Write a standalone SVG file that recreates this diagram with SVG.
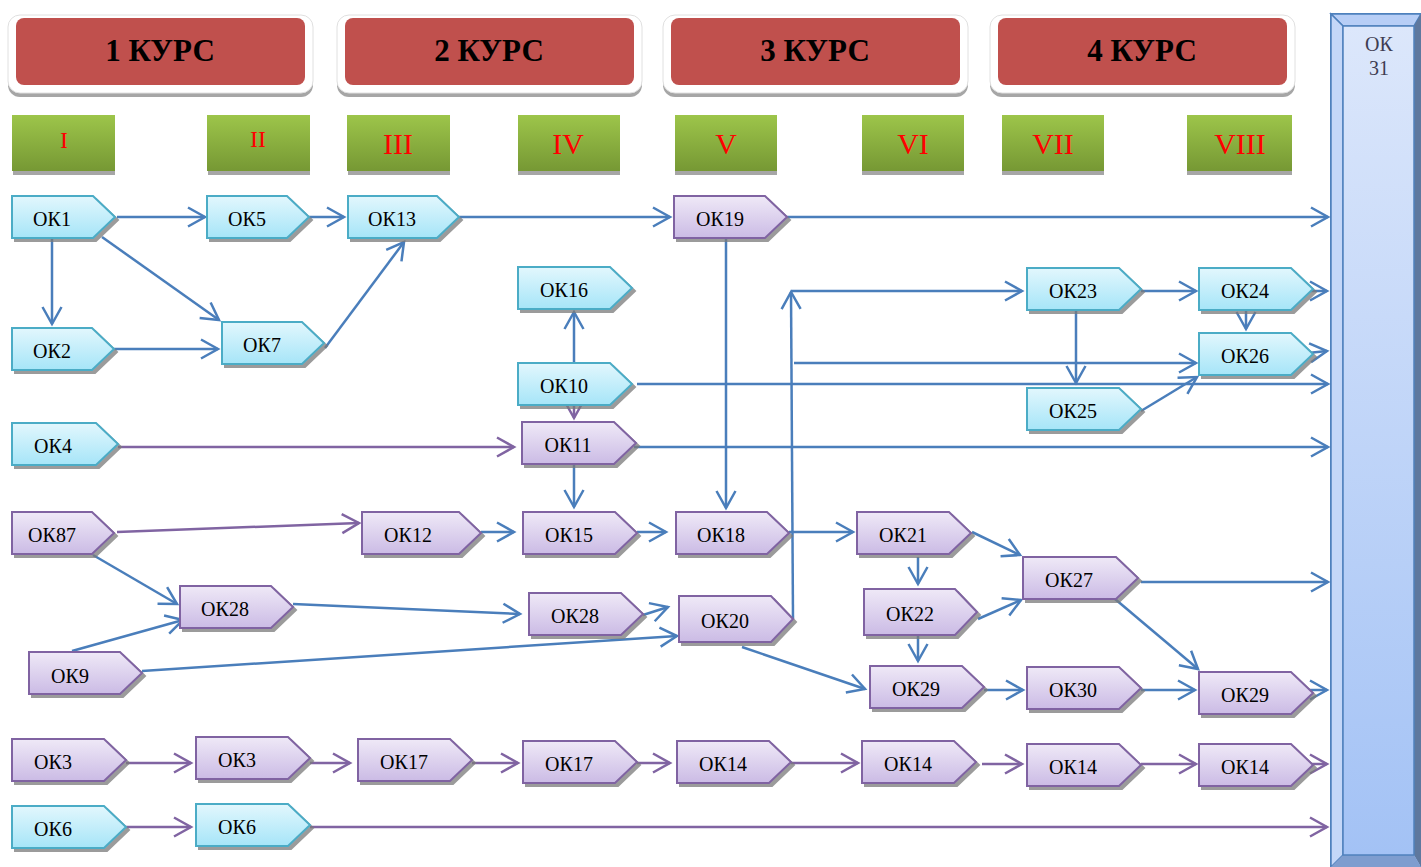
<svg xmlns="http://www.w3.org/2000/svg" width="1421" height="867" viewBox="0 0 1421 867">
<defs>
<linearGradient id="gc" x1="0" y1="0" x2="0" y2="1"><stop offset="0" stop-color="#e2f7fd"/><stop offset="1" stop-color="#a6e5f8"/></linearGradient>
<linearGradient id="gp" x1="0" y1="0" x2="0" y2="1"><stop offset="0" stop-color="#efe9f7"/><stop offset="1" stop-color="#cbbbe5"/></linearGradient>
<linearGradient id="gg" x1="0" y1="0" x2="0" y2="1"><stop offset="0" stop-color="#9dc54a"/><stop offset="1" stop-color="#769834"/></linearGradient>
<linearGradient id="gb" x1="0" y1="0" x2="0" y2="1"><stop offset="0" stop-color="#dce7fb"/><stop offset="1" stop-color="#a3c2f5"/></linearGradient>
<filter id="ds" x="-10%" y="-20%" width="130%" height="150%"><feDropShadow dx="3" dy="3" stdDeviation="0.7" flood-color="#7a7a7a" flood-opacity="0.75"/></filter>
<marker id="ab" markerWidth="24" markerHeight="24" viewBox="-20 -12 24 24" refX="0" refY="0" orient="auto" markerUnits="userSpaceOnUse"><path d="M-17,-9.5 L0,0 L-17,9.5" fill="none" stroke="#4a7ebb" stroke-width="2.5"/></marker>
<marker id="ap" markerWidth="24" markerHeight="24" viewBox="-20 -12 24 24" refX="0" refY="0" orient="auto" markerUnits="userSpaceOnUse"><path d="M-17,-9.5 L0,0 L-17,9.5" fill="none" stroke="#8064a2" stroke-width="2.5"/></marker>
</defs>
<style>
.c{fill:url(#gc);stroke:#4bacc6;stroke-width:2;filter:url(#ds)}
.p{fill:url(#gp);stroke:#8064a2;stroke-width:2;filter:url(#ds)}
.t{font-family:"Liberation Serif","Times New Roman",serif;font-size:20px;fill:#000;text-anchor:middle}
.hd{font-family:"Liberation Serif","Times New Roman",serif;font-size:31px;font-weight:bold;fill:#000;text-anchor:middle}
.rn{font-family:"Liberation Serif","Times New Roman",serif;font-size:30px;fill:#ff0000;text-anchor:middle}
.rs{font-size:24px}
.b{fill:none;stroke:#4a7ebb;stroke-width:2.5;marker-end:url(#ab)}
.bn{fill:none;stroke:#4a7ebb;stroke-width:2.5}
.pu{fill:none;stroke:#8064a2;stroke-width:2.5;marker-end:url(#ap)}
.frame{fill:#fff;stroke:#e0e0e0;stroke-width:1}
.fsh{fill:#a6a6a6}
.red{fill:#c0504d}
.gsh{fill:#a6a6a6}
.grn{fill:url(#gg)}
</style>
<rect width="1421" height="867" fill="#fff"/>

<g id="courses">
<g id="k1"><rect class="fsh" x="8" y="21" width="305" height="76" rx="12"/><rect class="frame" x="8" y="15" width="305" height="78" rx="12"/><rect class="red" x="16" y="18" width="289" height="67" rx="8"/><text class="hd" x="160" y="61">1 КУРС</text></g>
<g id="k2"><rect class="fsh" x="337" y="21" width="305" height="76" rx="12"/><rect class="frame" x="337" y="15" width="305" height="78" rx="12"/><rect class="red" x="345" y="18" width="289" height="67" rx="8"/><text class="hd" x="489" y="61">2 КУРС</text></g>
<g id="k3"><rect class="fsh" x="663" y="21" width="305" height="76" rx="12"/><rect class="frame" x="663" y="15" width="305" height="78" rx="12"/><rect class="red" x="671" y="18" width="289" height="67" rx="8"/><text class="hd" x="815" y="61">3 КУРС</text></g>
<g id="k4"><rect class="fsh" x="990" y="21" width="305" height="76" rx="12"/><rect class="frame" x="990" y="15" width="305" height="78" rx="12"/><rect class="red" x="998" y="18" width="289" height="67" rx="8"/><text class="hd" x="1142" y="61">4 КУРС</text></g>
</g>

<g id="semesters">
<g id="s1"><rect class="gsh" x="13" y="118" width="102" height="57"/><rect class="grn" x="12" y="115" width="103" height="56"/><text class="rn rs" x="64" y="148">I</text></g>
<g id="s2"><rect class="gsh" x="208" y="118" width="102" height="57"/><rect class="grn" x="207" y="115" width="103" height="56"/><text class="rn rs" x="258" y="147">II</text></g>
<g id="s3"><rect class="gsh" x="348" y="118" width="102" height="57"/><rect class="grn" x="347" y="115" width="103" height="56"/><text class="rn" x="398" y="154">III</text></g>
<g id="s4"><rect class="gsh" x="518" y="118" width="102" height="57"/><rect class="grn" x="518" y="115" width="102" height="56"/><text class="rn" x="568" y="154">IV</text></g>
<g id="s5"><rect class="gsh" x="675" y="118" width="102" height="57"/><rect class="grn" x="675" y="115" width="102" height="56"/><text class="rn" x="726" y="154">V</text></g>
<g id="s6"><rect class="gsh" x="862" y="118" width="102" height="57"/><rect class="grn" x="862" y="115" width="102" height="56"/><text class="rn" x="913" y="154">VI</text></g>
<g id="s7"><rect class="gsh" x="1002" y="118" width="102" height="57"/><rect class="grn" x="1002" y="115" width="102" height="56"/><text class="rn" x="1053" y="154">VII</text></g>
<g id="s8"><rect class="gsh" x="1187" y="118" width="105" height="57"/><rect class="grn" x="1187" y="115" width="105" height="56"/><text class="rn" x="1240" y="154">VIII</text></g>
</g>

<g id="ok31">
<rect x="1331" y="14" width="90" height="853" fill="url(#gb)" stroke="#4f81bd" stroke-width="2"/>
<polygon points="1331,14 1421,14 1414,26 1343,26" fill="#b7cef6" stroke="#4f81bd" stroke-width="1.5"/>
<polygon points="1331,14 1343,26 1343,855 1331,867" fill="#c4d7f8" stroke="#4f81bd" stroke-width="1.5"/>
<polygon points="1414,26 1421,14 1421,867 1414,855" fill="#5e789e"/>
<polygon points="1331,867 1343,855 1414,855 1421,867" fill="#7e9dcf"/>
<rect x="1343" y="26" width="71" height="829" fill="url(#gb)" stroke="#4f81bd" stroke-width="1.5"/>
<text class="t" x="1379" y="51" style="fill:#3f3d52">ОК</text>
<text class="t" x="1379" y="75" style="fill:#3f3d52">31</text>
</g>

<g id="connectors">
<line class="b" x1="117" y1="217" x2="205" y2="217"/>
<line class="b" x1="309" y1="217" x2="344" y2="217"/>
<line class="b" x1="459" y1="217" x2="670" y2="217"/>
<line class="b" x1="787" y1="217" x2="1328" y2="217"/>
<line class="b" x1="52" y1="238" x2="52" y2="324"/>
<line class="b" x1="102" y1="237" x2="219" y2="320"/>
<line class="b" x1="114" y1="349" x2="218" y2="349"/>
<line class="b" x1="325" y1="348" x2="404" y2="242"/>
<line class="b" x1="574" y1="363" x2="574" y2="312"/>
<line class="b" x1="637" y1="384" x2="1328" y2="384"/>
<line class="b" x1="634" y1="447" x2="1328" y2="447"/>
<line class="b" x1="574" y1="464" x2="574" y2="507"/>
<line class="b" x1="726" y1="238" x2="726" y2="508"/>
<line class="b" x1="793" y1="619" x2="791" y2="292"/>
<line class="b" x1="791" y1="291" x2="1022" y2="291"/>
<line class="b" x1="794" y1="363" x2="1196" y2="363"/>
<line class="b" x1="1141" y1="291" x2="1196" y2="291"/>
<line class="b" x1="1076" y1="310" x2="1076" y2="383"/>
<line class="b" x1="1246" y1="310" x2="1246" y2="329"/>
<line class="b" x1="1310" y1="291" x2="1327" y2="291"/>
<line class="b" x1="1308" y1="353" x2="1327" y2="351"/>
<line class="b" x1="1141" y1="411" x2="1197" y2="377"/>
<line class="b" x1="93" y1="555" x2="177" y2="604"/>
<line class="b" x1="72" y1="651" x2="183" y2="620"/>
<line class="b" x1="293" y1="604" x2="520" y2="614"/>
<line class="b" x1="142" y1="671" x2="677" y2="636"/>
<line class="b" x1="643" y1="615" x2="668" y2="607"/>
<line class="b" x1="481" y1="532" x2="514" y2="532"/>
<line class="b" x1="637" y1="532" x2="666" y2="532"/>
<line class="b" x1="789" y1="532" x2="853" y2="532"/>
<line class="b" x1="742" y1="647" x2="865" y2="689"/>
<line class="b" x1="918" y1="557" x2="918" y2="584"/>
<line class="b" x1="918" y1="636" x2="918" y2="661"/>
<line class="b" x1="972" y1="532" x2="1020" y2="555"/>
<line class="b" x1="978" y1="619" x2="1021" y2="600"/>
<line class="b" x1="1141" y1="582" x2="1328" y2="582"/>
<line class="b" x1="1115" y1="599" x2="1198" y2="669"/>
<line class="b" x1="984" y1="690" x2="1023" y2="690"/>
<line class="b" x1="1141" y1="690" x2="1195" y2="690"/>
<line class="b" x1="1308" y1="690" x2="1327" y2="690"/>
<line class="pu" x1="118" y1="447" x2="514" y2="447"/>
<line class="pu" x1="574" y1="405" x2="574" y2="418"/>
<line class="pu" x1="117" y1="532" x2="359" y2="523"/>
<line class="pu" x1="126" y1="763" x2="191" y2="763"/>
<line class="pu" x1="310" y1="763" x2="350" y2="763"/>
<line class="pu" x1="472" y1="763" x2="518" y2="763"/>
<line class="pu" x1="637" y1="763" x2="670" y2="763"/>
<line class="pu" x1="791" y1="763" x2="858" y2="763"/>
<line class="pu" x1="982" y1="764" x2="1022" y2="764"/>
<line class="pu" x1="1141" y1="764" x2="1196" y2="764"/>
<line class="pu" x1="1308" y1="764" x2="1327" y2="764"/>
<line class="pu" x1="126" y1="827" x2="191" y2="827"/>
<line class="pu" x1="310" y1="827" x2="1327" y2="827"/>
</g>

<g id="n1"><polygon class="c" points="12,196 93,196 115,217 93,238 12,238"/><text class="t" x="52" y="226">ОК1</text></g>
<g id="n5"><polygon class="c" points="207,196 287,196 309,217 287,238 207,238"/><text class="t" x="247" y="226">ОК5</text></g>
<g id="n13"><polygon class="c" points="348,196 437,196 459,217 437,238 348,238"/><text class="t" x="392" y="226">ОК13</text></g>
<g id="n19"><polygon class="p" points="674,196 765,196 787,217 765,238 674,238"/><text class="t" x="720" y="226">ОК19</text></g>
<g id="n2"><polygon class="c" points="12,328 92,328 114,349 92,370 12,370"/><text class="t" x="52" y="358">ОК2</text></g>
<g id="n7"><polygon class="c" points="222,322 302,322 324,343 302,364 222,364"/><text class="t" x="262" y="352">ОК7</text></g>
<g id="n4"><polygon class="c" points="12,423 96,423 118,444 96,465 12,465"/><text class="t" x="53" y="453">ОК4</text></g>
<g id="n16"><polygon class="c" points="518,267 610,267 632,288 610,309 518,309"/><text class="t" x="564" y="297">ОК16</text></g>
<g id="n10"><polygon class="c" points="518,363 610,363 632,384 610,405 518,405"/><text class="t" x="564" y="393">ОК10</text></g>
<g id="n11"><polygon class="p" points="522,422 614,422 636,443 614,464 522,464"/><text class="t" x="568" y="452">ОК11</text></g>
<g id="n23"><polygon class="c" points="1027,268 1119,268 1141,289 1119,310 1027,310"/><text class="t" x="1073" y="298">ОК23</text></g>
<g id="n24"><polygon class="c" points="1199,268 1291,268 1313,289 1291,310 1199,310"/><text class="t" x="1245" y="298">ОК24</text></g>
<g id="n26"><polygon class="c" points="1199,333 1291,333 1313,354 1291,375 1199,375"/><text class="t" x="1245" y="363">ОК26</text></g>
<g id="n25"><polygon class="c" points="1027,388 1119,388 1141,409 1119,430 1027,430"/><text class="t" x="1073" y="418">ОК25</text></g>
<g id="n87"><polygon class="p" points="12,512 92,512 114,533 92,554 12,554"/><text class="t" x="52" y="542">ОК87</text></g>
<g id="n12"><polygon class="p" points="362,512 459,512 481,533 459,554 362,554"/><text class="t" x="408" y="542">ОК12</text></g>
<g id="n15"><polygon class="p" points="523,512 615,512 637,533 615,554 523,554"/><text class="t" x="569" y="542">ОК15</text></g>
<g id="n18"><polygon class="p" points="676,512 767,512 789,533 767,554 676,554"/><text class="t" x="721" y="542">ОК18</text></g>
<g id="n21"><polygon class="p" points="857,512 949,512 971,533 949,554 857,554"/><text class="t" x="903" y="542">ОК21</text></g>
<g id="n28a"><polygon class="p" points="180,586 271,586 293,607 271,628 180,628"/><text class="t" x="225" y="616">ОК28</text></g>
<g id="n28b"><polygon class="p" points="529,593 621,593 643,614 621,635 529,635"/><text class="t" x="575" y="623">ОК28</text></g>
<g id="n20"><polygon class="p" points="679,596 771,596 793,619 771,642 679,642"/><text class="t" x="725" y="628">ОК20</text></g>
<g id="n22"><polygon class="p" points="864,589 955,589 977,612 955,635 864,635"/><text class="t" x="910" y="621">ОК22</text></g>
<g id="n27"><polygon class="p" points="1023,557 1116,557 1138,578 1116,599 1023,599"/><text class="t" x="1069" y="587">ОК27</text></g>
<g id="n9"><polygon class="p" points="29,652 120,652 142,673 120,694 29,694"/><text class="t" x="70" y="683">ОК9</text></g>
<g id="n29a"><polygon class="p" points="870,666 962,666 984,687 962,708 870,708"/><text class="t" x="916" y="696">ОК29</text></g>
<g id="n30"><polygon class="p" points="1027,667 1119,667 1141,688 1119,709 1027,709"/><text class="t" x="1073" y="697">ОК30</text></g>
<g id="n29b"><polygon class="p" points="1199,672 1291,672 1313,693 1291,714 1199,714"/><text class="t" x="1245" y="702">ОК29</text></g>
<g id="n3a"><polygon class="p" points="12,739 104,739 126,760 104,781 12,781"/><text class="t" x="53" y="769">ОК3</text></g>
<g id="n3b"><polygon class="p" points="196,737 288,737 310,758 288,779 196,779"/><text class="t" x="237" y="767">ОК3</text></g>
<g id="n17a"><polygon class="p" points="358,739 450,739 472,760 450,781 358,781"/><text class="t" x="404" y="769">ОК17</text></g>
<g id="n17b"><polygon class="p" points="523,741 615,741 637,762 615,783 523,783"/><text class="t" x="569" y="771">ОК17</text></g>
<g id="n14a"><polygon class="p" points="677,741 769,741 791,762 769,783 677,783"/><text class="t" x="723" y="771">ОК14</text></g>
<g id="n14b"><polygon class="p" points="862,741 954,741 976,762 954,783 862,783"/><text class="t" x="908" y="771">ОК14</text></g>
<g id="n14c"><polygon class="p" points="1027,744 1119,744 1141,765 1119,786 1027,786"/><text class="t" x="1073" y="774">ОК14</text></g>
<g id="n14d"><polygon class="p" points="1199,744 1291,744 1313,765 1291,786 1199,786"/><text class="t" x="1245" y="774">ОК14</text></g>
<g id="n6a"><polygon class="c" points="12,806 104,806 126,827 104,848 12,848"/><text class="t" x="53" y="836">ОК6</text></g>
<g id="n6b"><polygon class="c" points="196,804 288,804 310,825 288,846 196,846"/><text class="t" x="237" y="834">ОК6</text></g>
</svg>
